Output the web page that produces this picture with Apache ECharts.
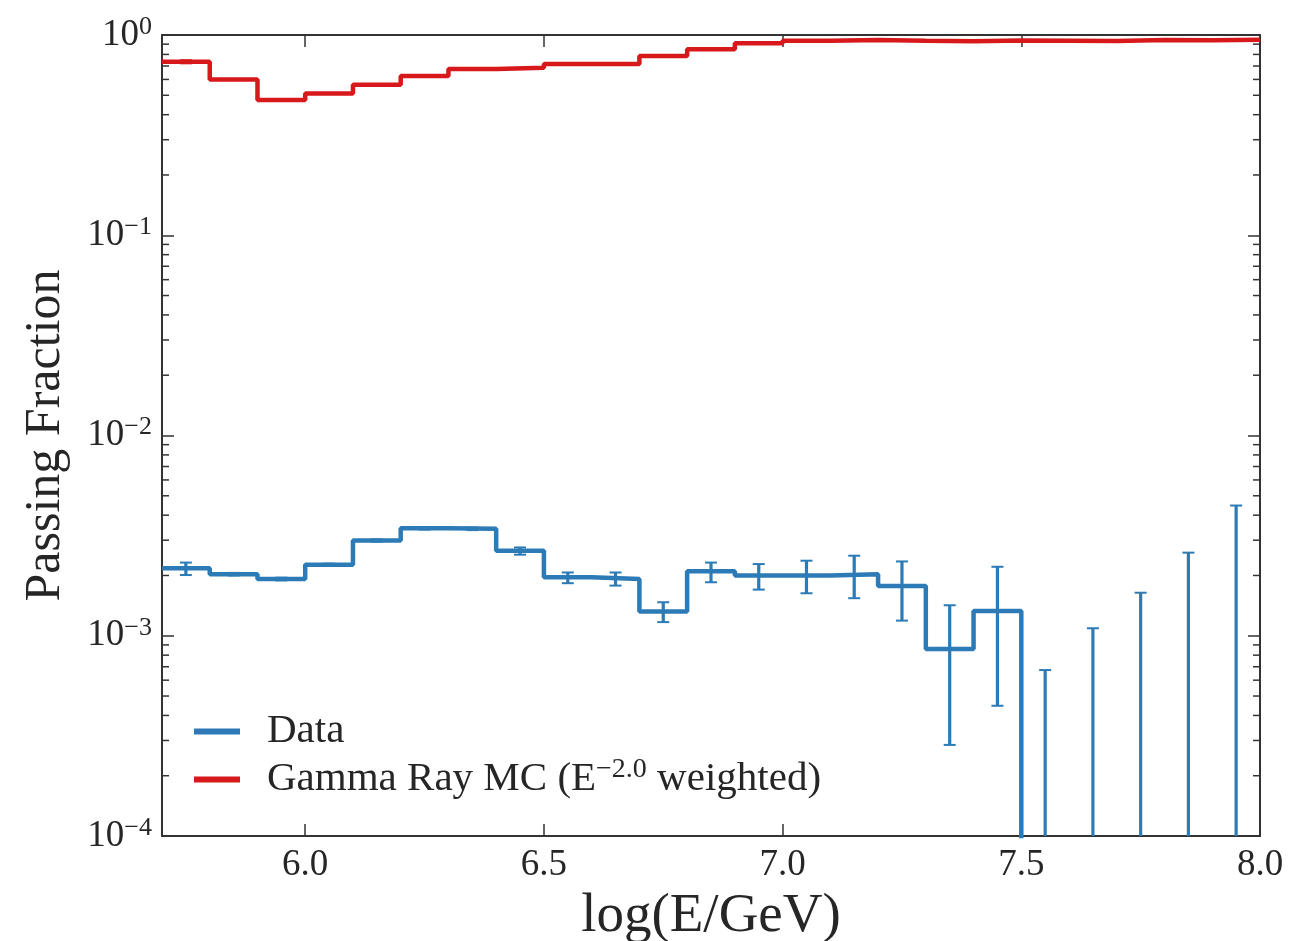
<!DOCTYPE html>
<html><head><meta charset="utf-8">
<script src="https://cdn.jsdelivr.net/npm/echarts@6/dist/echarts.min.js"></script>
<style>html,body{margin:0;padding:0;background:#fff}#c{width:1305px;height:941px}</style>
</head><body><div id="c"></div>
<script>
// ---- data ----
const binEdges = [5.7,5.8,5.9,6.0,6.1,6.2,6.3,6.4,6.5,6.6,6.7,6.8,6.9,7.0,7.1,7.2,7.3,7.4,7.5,7.6,7.7,7.8,7.9,8.0];
const xTickValues = [6.0,6.5,7.0,7.5,8.0];
const yMinorTicks = [2e-4,3e-4,4e-4,5e-4,6e-4,7e-4,8e-4,9e-4,
                     2e-3,3e-3,4e-3,5e-3,6e-3,7e-3,8e-3,9e-3,
                     2e-2,3e-2,4e-2,5e-2,6e-2,7e-2,8e-2,9e-2,
                     0.2,0.3,0.4,0.5,0.6,0.7,0.8,0.9];
const dataValues  = [0.00217,0.00203,0.00192,0.00226,0.00299,0.00344,0.00342,0.00266,0.00196,0.00192,0.00132,0.00210,0.00200,0.00200,0.00203,0.00177,0.000858,0.00133,0,0,0,0,0];
const dataErrLow  = [0.00201,0.00200,0.00189,0.00223,0.00295,0.00339,0.00337,0.00254,0.00183,0.00178,0.00117,0.00185,0.00170,0.00163,0.00154,0.00119,0.000285,0.000447,0,0,0,0,0];
const dataErrHigh = [0.00232,0.00206,0.00195,0.00229,0.00303,0.00349,0.00347,0.00276,0.00207,0.00207,0.00147,0.00232,0.00228,0.00237,0.00251,0.00235,0.00142,0.00221,0.000674,0.00109,0.00164,0.00260,0.00447];
const mcValues    = [0.735,0.600,0.473,0.511,0.564,0.624,0.676,0.686,0.716,0.716,0.785,0.848,0.909,0.935,0.944,0.935,0.930,0.940,0.937,0.933,0.944,0.941,0.947];
const mcErrLow    = [0.722,0.600,0.473,0.511,0.564,0.624,0.676,0.686,0.716,0.716,0.785,0.848,0.909,0.935,0.944,0.935,0.930,0.940,0.937,0.933,0.944,0.941,0.947];
const mcErrHigh   = [0.748,0.600,0.473,0.511,0.564,0.624,0.676,0.686,0.716,0.716,0.785,0.848,0.909,0.935,0.944,0.935,0.930,0.940,0.937,0.933,0.944,0.941,0.947];
const seriesNames = ['Data','Gamma Ray MC'];

// ---- style ----
const FONT = 'Liberation Serif';
const TXT = '#262626';
const AX = '#333333';
const BLUE = '#2c7bb6';
const RED = '#d7191c';
const Y_MIN = 1e-4, Y_MAX = 1;
const LOG_FLOOR = 1e-8;

const floor = v => (v > 0 ? v : LOG_FLOOR);
function stepData(vals){
  const out = vals.map((v,i)=>[binEdges[i], floor(v)]);
  out.push([binEdges[binEdges.length-1], floor(vals[vals.length-1])]);
  return out;
}
function errData(lo, hi){
  return hi.map((h,i)=>[(binEdges[i]+binEdges[i+1])/2, floor(lo[i]), floor(h)]);
}
function errRender(color){
  return function(params, api){
    const x = api.value(0), lo = api.value(1), hi = api.value(2);
    if (!(hi > lo)) return null;
    const cs = params.coordSys;
    const bottom = cs.y + cs.height;
    const pHi = api.coord([x, hi]);
    const pLo = api.coord([x, lo]);
    const loVisible = lo >= Y_MIN && pLo[1] <= bottom;
    const yLo = loVisible ? pLo[1] : bottom;
    const cw = 6;
    const ch = [
      {type:'line', shape:{x1:pHi[0], y1:pHi[1], x2:pHi[0], y2:yLo}, style:{stroke:color, lineWidth:3.2}},
      {type:'line', shape:{x1:pHi[0]-cw, y1:pHi[1], x2:pHi[0]+cw, y2:pHi[1]}, style:{stroke:color, lineWidth:2}}
    ];
    if (loVisible) ch.push({type:'line', shape:{x1:pLo[0]-cw, y1:pLo[1], x2:pLo[0]+cw, y2:pLo[1]}, style:{stroke:color, lineWidth:2}});
    return {type:'group', children:ch};
  };
}
function minorTickRender(params, api){
  const cs = params.coordSys;
  const p = api.coord([binEdges[0], api.value(1)]);
  const L = 7;
  return {type:'group', children:[
    {type:'line', shape:{x1:cs.x, y1:p[1], x2:cs.x+L, y2:p[1]}, style:{stroke:AX, lineWidth:1.5}},
    {type:'line', shape:{x1:cs.x+cs.width-L, y1:p[1], x2:cs.x+cs.width, y2:p[1]}, style:{stroke:AX, lineWidth:1.5}}
  ]};
}
const supLabel = v => {
  const e = Math.round(Math.log10(v));
  return '{b|10}{s|' + (e < 0 ? '\u2212' + (-e) : e) + '}';
};

const axisLineStyle = {color: AX, width: 2};
const chart = echarts.init(document.getElementById('c'), null, {renderer:'canvas'});
chart.setOption({
  animation: false,
  backgroundColor: '#ffffff',
  grid: {left: 162, right: 45, top: 35, bottom: 105, containLabel: false, outerBoundsMode: 'none'},
  legend: {
    orient: 'vertical', left: 189, top: 706, itemGap: 4,
    itemWidth: 46, itemHeight: 6,
    data: [{name: seriesNames[0], icon: 'rect'}, {name: seriesNames[1], icon: 'rect'}],
    formatter: n => n === seriesNames[0] ? '{f|Data}' : '{f|Gamma Ray MC (E}{s|\u22122.0}{n| weighted)}',
    textStyle: {
      color: TXT, fontFamily: FONT, fontSize: 41,
      rich: {
        f: {fontFamily: FONT, fontSize: 41, color: TXT, lineHeight: 47, padding: [0,0,0,22]},
        n: {fontFamily: FONT, fontSize: 41, color: TXT, lineHeight: 47},
        s: {fontFamily: FONT, fontSize: 28, color: TXT, lineHeight: 20, verticalAlign: 'top'}
      }
    }
  },
  xAxis: [{
    type: 'value', min: binEdges[0], max: binEdges[binEdges.length-1], position: 'bottom',
    name: 'log(E/GeV)', nameLocation: 'middle', nameGap: 50,
    nameTextStyle: {fontFamily: FONT, fontSize: 55, color: TXT},
    axisLine: {show: true, onZero: false, lineStyle: axisLineStyle},
    axisTick: {show: true, inside: true, length: 12, customValues: xTickValues, lineStyle: {color: AX, width: 1.5}},
    axisLabel: {show: true, margin: 11, customValues: xTickValues, formatter: v => Number(v).toFixed(1),
      fontFamily: FONT, fontSize: 37, color: TXT},
    splitLine: {show: false}
  },{
    type: 'value', min: binEdges[0], max: binEdges[binEdges.length-1], position: 'top',
    axisLine: {show: true, onZero: false, lineStyle: axisLineStyle},
    axisTick: {show: true, inside: true, length: 12, customValues: xTickValues, lineStyle: {color: AX, width: 1.5}},
    axisLabel: {show: false}, splitLine: {show: false}
  }],
  yAxis: [{
    type: 'log', logBase: 10, min: Y_MIN, max: Y_MAX, position: 'left',
    name: 'Passing Fraction', nameLocation: 'middle', nameGap: 91,
    nameTextStyle: {fontFamily: FONT, fontSize: 50, color: TXT},
    axisLine: {show: true, lineStyle: axisLineStyle},
    axisTick: {show: true, inside: true, length: 12, lineStyle: {color: AX, width: 1.5}},
    axisLabel: {show: true, margin: 10, formatter: supLabel,
      rich: {
        b: {fontFamily: FONT, fontSize: 37, color: TXT, lineHeight: 42},
        s: {fontFamily: FONT, fontSize: 26, color: TXT, lineHeight: 17, verticalAlign: 'top'}
      }},
    splitLine: {show: false}, minorTick: {show: false}
  },{
    type: 'log', logBase: 10, min: Y_MIN, max: Y_MAX, position: 'right',
    axisLine: {show: true, lineStyle: axisLineStyle},
    axisTick: {show: true, inside: true, length: 12, lineStyle: {color: AX, width: 1.5}},
    axisLabel: {show: false}, splitLine: {show: false}
  }],
  series: [
    {name: seriesNames[0], type: 'line', step: 'end', data: stepData(dataValues), symbol: 'none', showSymbol: false,
      color: BLUE, lineStyle: {color: BLUE, width: 4.5}, clip: true, z: 3},
    {name: seriesNames[1], type: 'line', step: 'end', data: stepData(mcValues), symbol: 'none', showSymbol: false,
      color: RED, lineStyle: {color: RED, width: 4.5}, clip: true, z: 3},
    {name: 'dataErr', type: 'custom', renderItem: errRender(BLUE), data: errData(dataErrLow, dataErrHigh),
      encode: {x: 0, y: [1,2]}, clip: true, silent: true, z: 4},
    {name: 'mcErr', type: 'custom', renderItem: errRender(RED), data: errData(mcErrLow, mcErrHigh),
      encode: {x: 0, y: [1,2]}, clip: true, silent: true, z: 4},
    {name: 'minorTicks', type: 'custom', renderItem: minorTickRender,
      data: yMinorTicks.map(v => [binEdges[0], v]), encode: {x: 0, y: 1}, silent: true, z: 5}
  ]
});
</script></body></html>
